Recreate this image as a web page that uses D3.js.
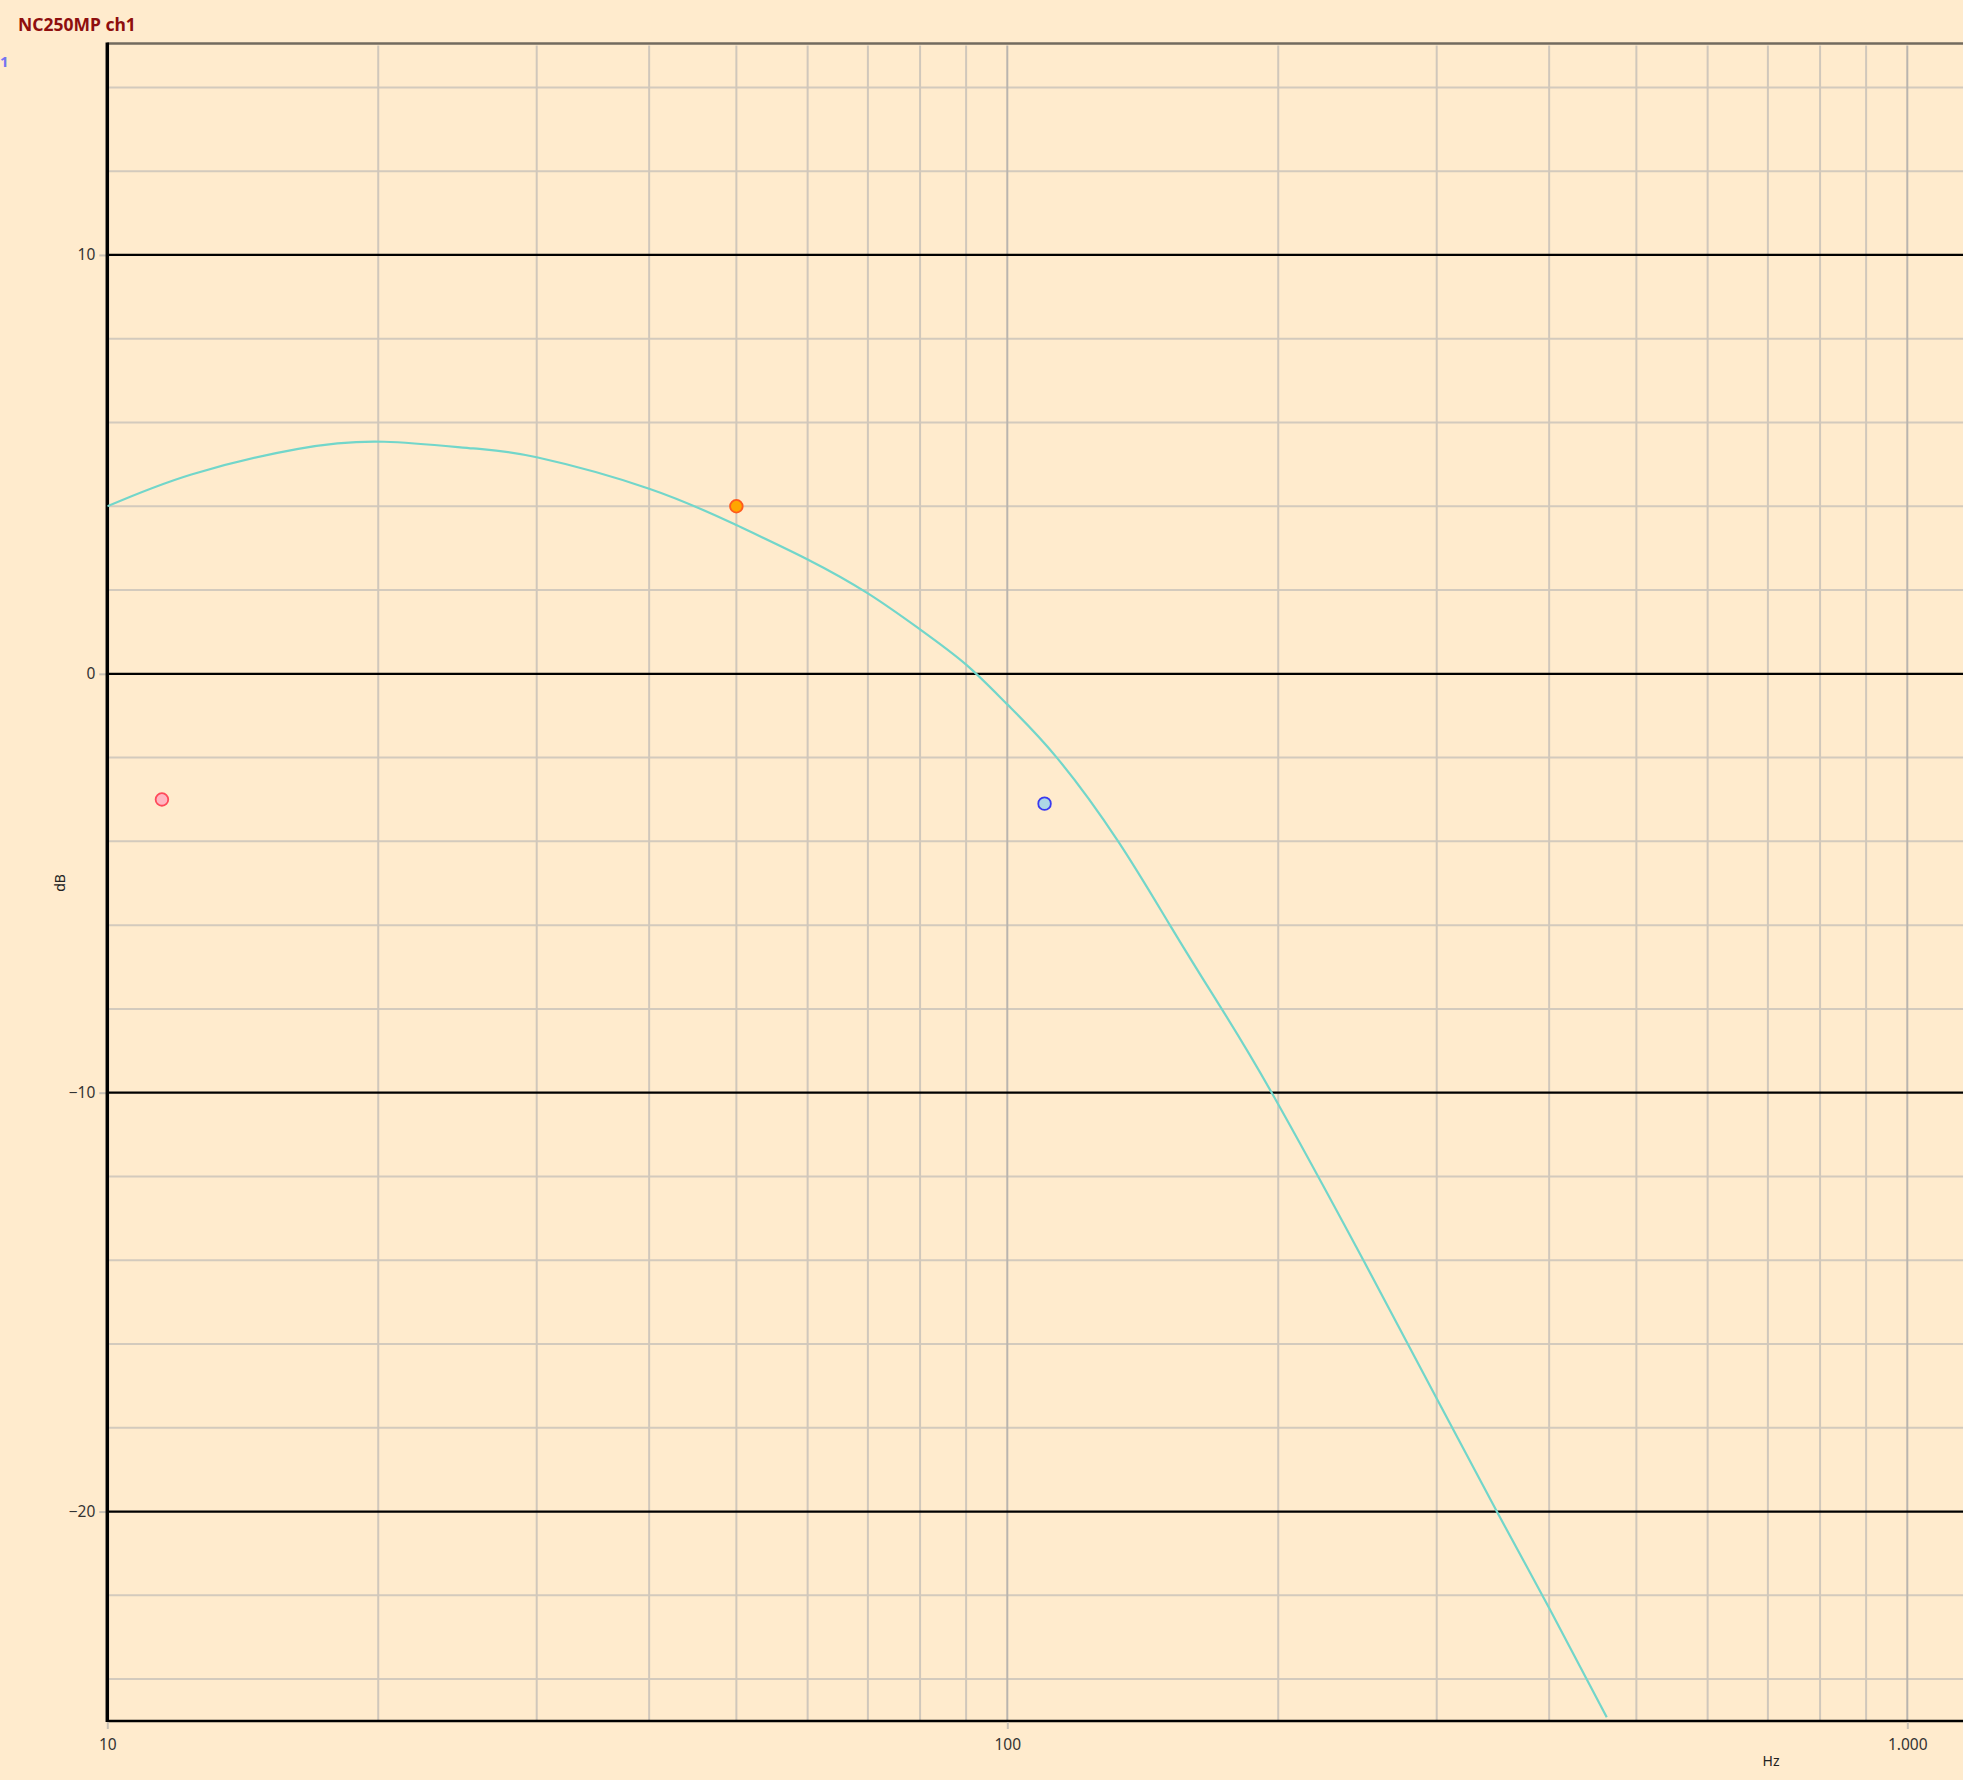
<!DOCTYPE html>
<html>
<head>
<meta charset="utf-8">
<script src="https://cdn.jsdelivr.net/npm/d3@7"></script>
<style>
  html, body { margin: 0; padding: 0; background: #FFEBCD; }
  svg { display: block; }
  text { font-family: "Noto Sans", "Open Sans", sans-serif; }
</style>
</head>
<body>
<svg id="chart" width="1963" height="1780"></svg>
<script>
// ---- data ----
const chartTitle = "NC250MP ch1";
const seriesLabel = "1";
const curveFreq = [10, 12.4, 16.3, 20.3, 25.5, 30, 40, 50, 60, 70, 80, 90, 100, 113.5, 132.8, 151.6, 170.2, 196.7, 248.7, 300, 349.9, 400, 463.5];
const curveDb = [4.0, 4.76, 5.37, 5.54, 5.38, 5.17, 4.42, 3.55, 2.73, 1.92, 1.06, 0.22, -0.73, -2.0, -4.0, -6.0, -7.75, -10.0, -14.0, -17.3, -20.0, -22.3, -24.91];
const markerFreq = [11.5, 50, 110];
const markerDb = [-3.0, 4.0, -3.1];
const markerFill = ["#FFB6C1", "#FFA500", "#ADD8E6"];
const markerStroke = ["#FF4A5A", "#FF5A1E", "#3A3AF0"];
const yMajorTicks = [-20, -10, 0, 10];
const yMinorTicks = [-24, -22, -18, -16, -14, -12, -8, -6, -4, -2, 2, 4, 6, 8, 12, 14];
const xGridTicks = [20, 30, 40, 50, 60, 70, 80, 90, 200, 300, 400, 500, 600, 700, 800, 900];
const xMajorTicks = [10, 100, 1000];
const xTickLabels = ["10", "100", "1.000"];

// ---- layout ----
const W = 1963, H = 1780;
const pLeft = 107.3, pRight = W, pTop = 45.5, pBottom = 1721;
const svg = d3.select("#chart");

const x = d3.scaleLog().domain([10, 1000]).range([pLeft, pLeft + 1800]);
const y = d3.scaleLinear().domain([-25, 15]).range([pBottom, pTop]);

svg.append("rect").attr("width", W).attr("height", H).attr("fill", "#FFEBCD");

svg.append("defs").append("clipPath").attr("id", "plotClip")
  .append("rect").attr("x", pLeft).attr("y", pTop - 2).attr("width", pRight - pLeft).attr("height", pBottom - pTop + 2);

const grid = svg.append("g");
grid.selectAll(".hmin").data(yMinorTicks).join("line")
  .attr("x1", pLeft).attr("x2", pRight)
  .attr("y1", d => y(d)).attr("y2", d => y(d))
  .attr("stroke", "#D3CABD").attr("stroke-width", 2);
grid.selectAll(".vmin").data(xGridTicks).join("line")
  .attr("x1", d => x(d)).attr("x2", d => x(d))
  .attr("y1", pTop).attr("y2", pBottom)
  .attr("stroke", "#D0C7BB").attr("stroke-width", 2);
grid.selectAll(".vmaj").data([100, 1000]).join("line")
  .attr("x1", d => x(d)).attr("x2", d => x(d))
  .attr("y1", pTop).attr("y2", pBottom)
  .attr("stroke", "#B9B4AE").attr("stroke-width", 2);
grid.selectAll(".hmaj").data(yMajorTicks).join("line")
  .attr("x1", pLeft).attr("x2", pRight)
  .attr("y1", d => y(d)).attr("y2", d => y(d))
  .attr("stroke", "#000").attr("stroke-width", 2.2);

// frame
svg.append("line").attr("x1", pLeft).attr("x2", pRight).attr("y1", pTop - 2).attr("y2", pTop - 2)
  .attr("stroke", "#726A5E").attr("stroke-width", 2.5);
svg.append("line").attr("x1", pLeft).attr("x2", pRight).attr("y1", pBottom).attr("y2", pBottom)
  .attr("stroke", "#000").attr("stroke-width", 2.5);

// axes
const yAxis = d3.axisLeft(y).tickValues(yMajorTicks).tickSize(7).tickPadding(4).tickFormat(d3.format("d"));
const gy = svg.append("g").attr("transform", `translate(${pLeft - 1},0)`).call(yAxis);
gy.select(".domain").remove();
gy.selectAll(".tick line").attr("stroke", "#C9C1B5").attr("stroke-width", 2);
gy.selectAll(".tick text").attr("fill", "#333").attr("font-size", 15.5);

const xAxis = d3.axisBottom(x).tickValues(xMajorTicks).tickSize(7).tickPadding(10)
  .tickFormat((d, i) => xTickLabels[i]);
const gx = svg.append("g").attr("transform", `translate(0,${pBottom + 1})`).call(xAxis);
gx.select(".domain").remove();
gx.selectAll(".tick line").attr("stroke", "#C9C1B5").attr("stroke-width", 2);
gx.selectAll(".tick text").attr("fill", "#333").attr("font-size", 15.5);

svg.append("line").attr("x1", pLeft).attr("x2", pLeft).attr("y1", pTop - 3).attr("y2", pBottom + 1)
  .attr("stroke", "#000").attr("stroke-width", 3.5);

// curve
const line = d3.line().x(d => x(d[0])).y(d => y(d[1])).curve(d3.curveNatural);
svg.append("path")
  .datum(curveFreq.map((f, i) => [f, curveDb[i]]))
  .attr("clip-path", "url(#plotClip)")
  .attr("d", line)
  .attr("fill", "none").attr("stroke", "#72D6CA").attr("stroke-width", 2.2);

// markers
svg.selectAll(".mk").data(markerFreq).join("circle")
  .attr("cx", d => x(d)).attr("cy", (d, i) => y(markerDb[i])).attr("r", 6.3)
  .attr("fill", (d, i) => markerFill[i]).attr("stroke", (d, i) => markerStroke[i]).attr("stroke-width", 1.8);

// labels
svg.append("text").attr("x", 18).attr("y", 31).attr("font-size", 17.5).attr("font-weight", "bold")
  .attr("fill", "#8E0E0E").text(chartTitle);
svg.append("text").attr("x", 0).attr("y", 67).attr("font-size", 15).attr("font-weight", "bold")
  .attr("fill", "#7474F2").text(seriesLabel);
svg.append("text").attr("x", 1771).attr("y", 1766).attr("text-anchor", "middle")
  .attr("font-size", 14).attr("fill", "#222").text("Hz");
svg.append("text").attr("transform", "translate(65,883) rotate(-90)").attr("text-anchor", "middle")
  .attr("font-size", 14).attr("fill", "#222").text("dB");
</script>
</body>
</html>
